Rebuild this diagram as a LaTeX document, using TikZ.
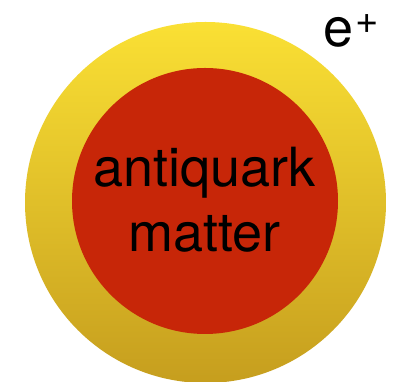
\documentclass[tikz,border=0pt]{standalone}
\usepackage{fontspec}
\setmainfont{TeX Gyre Heros}
\definecolor{ytop}{RGB}{250,224,52}
\definecolor{ybot}{RGB}{198,158,30}
\definecolor{redcore}{RGB}{199,38,8}
\tikzset{
  bigtxt/.style={font=\fontsize{54}{60}\selectfont, text=black, inner sep=0pt},
}
\begin{document}
\begin{tikzpicture}[x=1pt,y=1pt]
\useasboundingbox (0,0) rectangle (397,382);
\fill[white] (0,0) rectangle (397,382);
\begin{scope}
\clip (0,0) rectangle (397,382);
\shade[top color=ytop, bottom color=ybot] (205.5,179.5) circle[radius=180.5];
\end{scope}
\fill[redcore] (205,181) circle[radius=133];
\node[bigtxt, anchor=base] (l1) at (204.5,195) {antiquark};
\node[bigtxt, anchor=base] (l2) at (204.5,130) {matter};
\node[bigtxt, anchor=base west] (ep) at (323,335) {e\kern2pt\raisebox{13pt}{\fontsize{40}{40}\selectfont +}};
\end{tikzpicture}
\end{document}
